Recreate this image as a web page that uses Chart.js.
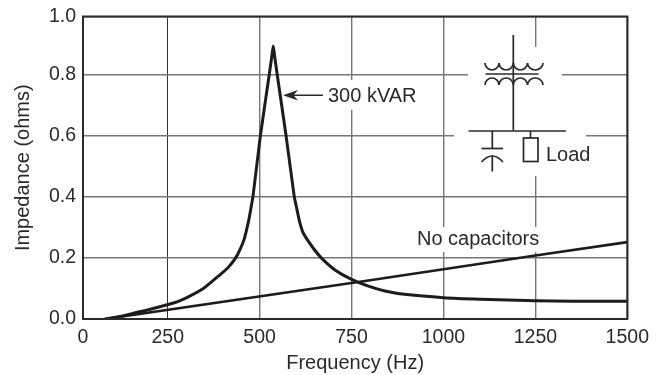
<!DOCTYPE html>
<html>
<head>
<meta charset="utf-8">
<style>
  html, body { margin: 0; padding: 0; background: #fff; }
  canvas { display: block; }
</style>
<script src="https://cdn.jsdelivr.net/npm/chart.js@4"></script>
</head>
<body>
<canvas id="chart" width="658" height="375"></canvas>
<script>
// the drawn axis starts a little above true 0 Hz, its first tick is still labelled 0
const xStart = 19.6;
const xTickValues = [xStart, 250, 500, 750, 1000, 1250, 1500];
const xTickLabels = ['0', '250', '500', '750', '1000', '1250', '1500'];
const yTop = 0.992;
const yTickValues = [0, 0.2, 0.4, 0.6, 0.8, yTop];
const yTickLabels = ['0.0', '0.2', '0.4', '0.6', '0.8', '1.0'];

const freq300 = [79, 120, 156, 200, 256, 279, 302, 347, 392, 415, 433, 446, 458, 470, 477, 482, 502, 526, 533, 537, 541, 548, 572, 594, 600, 609, 619, 646, 669, 705, 750, 796, 841, 900, 1000, 1100, 1250, 1350, 1500];
const imp300 = [0, 0.0085, 0.0185, 0.031, 0.049, 0.058, 0.07, 0.1, 0.145, 0.17, 0.197, 0.226, 0.262, 0.322, 0.368, 0.403, 0.6, 0.8, 0.86, 0.895, 0.86, 0.8, 0.6, 0.403, 0.368, 0.318, 0.281, 0.232, 0.199, 0.161, 0.13, 0.108, 0.092, 0.08, 0.07, 0.065, 0.06, 0.058, 0.058];
const freqNoCap = [79, 773, 1000, 1250, 1500];
const impNoCap = [0, 0.122, 0.163, 0.208, 0.252];

const FONT = '"Liberation Sans", Arial, sans-serif';
const INK = '#2a2a2a';
const GRID = '#767676';

function toPoints(xs, ys) {
  return xs.map((x, i) => ({ x: x, y: ys[i] }));
}

function line(ctx, x1, y1, x2, y2) {
  ctx.beginPath();
  ctx.moveTo(x1, y1);
  ctx.lineTo(x2, y2);
  ctx.stroke();
}

// gridlines stop short of the labels and the little circuit
const gridGaps = {
  id: 'gridGaps',
  beforeDatasetsDraw(chart) {
    const ctx = chart.ctx;
    ctx.save();
    ctx.fillStyle = '#fff';
    ctx.fillRect(468, 47, 94, 63);
    ctx.fillRect(454, 110, 132, 66);
    ctx.fillRect(325, 80, 115, 30);
    ctx.fillRect(415, 227, 130, 25);
    ctx.restore();
  }
};

const frameAndNotes = {
  id: 'frameAndNotes',
  afterDraw(chart) {
    const ctx = chart.ctx;
    const a = chart.chartArea;
    ctx.save();
    ctx.strokeStyle = INK;
    ctx.lineWidth = 2;
    ctx.strokeRect(a.left, a.top, a.right - a.left, a.bottom - a.top);

    ctx.fillStyle = INK;
    ctx.font = '20px ' + FONT;
    ctx.textAlign = 'left';
    ctx.textBaseline = 'alphabetic';
    ctx.fillText('300 kVAR', 328, 102);
    ctx.fillText('No capacitors', 417, 245);
    ctx.fillText('Load', 546, 161);

    // arrow to the 300 kVAR curve
    ctx.lineWidth = 1.4;
    line(ctx, 323, 95.3, 288, 95.3);
    ctx.beginPath();
    ctx.moveTo(283, 95.3);
    ctx.lineTo(298, 90);
    ctx.lineTo(293.5, 95.3);
    ctx.lineTo(298, 100.5);
    ctx.closePath();
    ctx.fill();

    // transformer
    ctx.lineWidth = 1.7;
    line(ctx, 513.3, 35, 513.3, 130.5);
    line(ctx, 485.5, 74, 538.5, 74);
    const coilX = [485, 499, 513.3, 527.5, 543];
    for (let i = 0; i < 4; i++) {
      const r = (coilX[i + 1] - coilX[i]) / 2;
      const cx = coilX[i] + r;
      ctx.beginPath();
      ctx.ellipse(cx, 63, r, 7, 0, 0, Math.PI);
      ctx.stroke();
      ctx.beginPath();
      ctx.ellipse(cx, 85, r, 7, 0, Math.PI, 0);
      ctx.stroke();
    }

    // bus, capacitor and load
    line(ctx, 468.5, 131, 566, 131);
    line(ctx, 492.3, 131, 492.3, 148.5);
    line(ctx, 481.5, 148.5, 503, 148.5);
    ctx.beginPath();
    ctx.moveTo(481.5, 162);
    ctx.quadraticCurveTo(492.3, 150, 503, 162);
    ctx.stroke();
    line(ctx, 492.3, 155, 492.3, 171.5);
    line(ctx, 530.5, 131, 530.5, 138);
    ctx.strokeRect(523.5, 138, 14.5, 23.5);
    ctx.restore();
  }
};

new Chart(document.getElementById('chart'), {
  type: 'scatter',
  data: {
    datasets: [
      {
        label: '300 kVAR',
        data: toPoints(freq300, imp300),
        showLine: true,
        borderColor: '#1f1a1c',
        borderWidth: 3,
        borderJoinStyle: 'round',
        pointRadius: 0,
        tension: 0.2
      },
      {
        label: 'No capacitors',
        data: toPoints(freqNoCap, impNoCap),
        showLine: true,
        borderColor: '#1f1a1c',
        borderWidth: 2.6,
        pointRadius: 0
      }
    ]
  },
  options: {
    responsive: false,
    animation: false,
    layout: { padding: { top: 16.5, right: 30.7, left: 0, bottom: 0 } },
    plugins: {
      legend: { display: false },
      tooltip: { enabled: false }
    },
    scales: {
      x: {
        type: 'linear',
        min: xStart,
        max: 1500,
        afterBuildTicks: scale => { scale.ticks = xTickValues.map(v => ({ value: v })); },
        afterFit: scale => { scale.height = 56; },
        grid: {
          drawTicks: false,
          color: ctx => (ctx.tick && ctx.tick.value === 250 ? '#333' : GRID),
          lineWidth: ctx => (ctx.tick && ctx.tick.value === 250 ? 1 : 1.4)
        },
        border: { display: false },
        ticks: {
          autoSkip: false,
          maxRotation: 0,
          padding: 7,
          color: INK,
          font: { family: FONT, size: 19.5 },
          callback: (v, i) => xTickLabels[i]
        },
        title: {
          display: true,
          text: 'Frequency (Hz)',
          color: INK,
          font: { family: FONT, size: 20 },
          padding: { top: 4, bottom: 0 }
        }
      },
      y: {
        type: 'linear',
        min: 0,
        max: yTop,
        afterBuildTicks: scale => { scale.ticks = yTickValues.map(v => ({ value: v })); },
        // tick padding would otherwise push the plot top down past the layout padding
        afterFit: scale => { scale.width = 83; scale.paddingTop = 0; scale.paddingBottom = 0; },
        grid: { drawTicks: false, color: GRID, lineWidth: 1.4 },
        border: { display: false },
        ticks: {
          autoSkip: false,
          padding: 7,
          color: INK,
          font: { family: FONT, size: 19.5 },
          callback: (v, i) => yTickLabels[i]
        },
        title: {
          display: true,
          text: 'Impedance (ohms)',
          color: INK,
          font: { family: FONT, size: 20 },
          padding: { top: 11, bottom: 0 }
        }
      }
    }
  },
  plugins: [gridGaps, frameAndNotes]
});
</script>
</body>
</html>
